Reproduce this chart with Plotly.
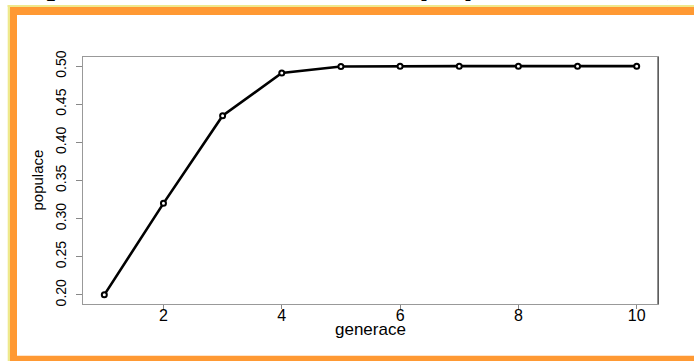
import plotly.graph_objects as go

# ---- data ----
generace = [1, 2, 3, 4, 5, 6, 7, 8, 9, 10]
populace = [0.200, 0.320, 0.435, 0.491, 0.4995, 0.500, 0.500, 0.500, 0.500, 0.500]
x_ticks = [2, 4, 6, 8, 10]
y_ticks = [0.20, 0.25, 0.30, 0.35, 0.40, 0.45, 0.50]
y_tick_labels = ["0.20", "0.25", "0.30", "0.35", "0.40", "0.45", "0.50"]
x_title = "generace"
y_title = "populace"

# ---- geometry (pixels) ----
W, H = 694, 361
L, R, T, B = 83, 658, 57, 304


def px(x):
    return (x - L) / (R - L)


def py(y):
    return (B - y) / (B - T)


ORANGE = "#FF9933"
YELLOW = "#EFE98C"
SANS = "Liberation Sans, Arial, Helvetica, sans-serif"
NARROW = "Liberation Sans Narrow, Arial Narrow, Liberation Sans, sans-serif"

fig = go.Figure(
    go.Scatter(
        x=generace,
        y=populace,
        mode="lines+markers",
        line=dict(color="black", width=2.6),
        marker=dict(symbol="circle", size=5, color="white",
                    line=dict(color="black", width=2)),
        cliponaxis=False,
        showlegend=False,
    )
)

shapes = [
    # yellow outer strips
    dict(type="rect", xref="paper", yref="paper", x0=px(7.7), x1=px(700), y0=py(7), y1=py(5),
         fillcolor=YELLOW, line=dict(width=0), layer="below"),
    dict(type="rect", xref="paper", yref="paper", x0=px(7.7), x1=px(10), y0=py(365), y1=py(5),
         fillcolor=YELLOW, line=dict(width=0), layer="below"),
    # orange frame
    dict(type="rect", xref="paper", yref="paper", x0=px(10), x1=px(700), y0=py(15), y1=py(7),
         fillcolor=ORANGE, line=dict(width=0), layer="below"),
    dict(type="rect", xref="paper", yref="paper", x0=px(10), x1=px(17), y0=py(365), y1=py(7),
         fillcolor=ORANGE, line=dict(width=0), layer="below"),
    dict(type="rect", xref="paper", yref="paper", x0=px(10), x1=px(700), y0=py(365), y1=py(355.7),
         fillcolor=ORANGE, line=dict(width=0), layer="below"),
    # darker right edge of plot box
    dict(type="line", xref="paper", yref="paper", x0=1, x1=1, y0=0, y1=1,
         line=dict(color="#222", width=1)),
]

annotations = [
    dict(text=x_title, xref="paper", yref="paper", x=0.5, y=py(330),
         xanchor="center", yanchor="middle", showarrow=False,
         font=dict(family=SANS, size=17, color="black")),
    dict(text=y_title, xref="paper", yref="paper", x=px(37), y=0.5, textangle=-90,
         xanchor="center", yanchor="middle", showarrow=False,
         font=dict(family=NARROW, size=15, color="black")),
    # cropped slide title fragments at the very top
    dict(text="<i>p</i>", xref="paper", yref="paper", x=px(44), y=py(3),
         xanchor="left", yanchor="bottom", showarrow=False,
         font=dict(family="Liberation Serif, serif", size=36, color="black")),
    dict(text="<b>populace</b>", xref="paper", yref="paper", x=px(417), y=py(3),
         xanchor="left", yanchor="bottom", showarrow=False,
         font=dict(family=SANS, size=36, color="black")),
    dict(text="(t)", xref="paper", yref="paper", x=px(654), y=py(3),
         xanchor="left", yanchor="bottom", showarrow=False,
         font=dict(family="Liberation Serif, serif", size=38, color="black")),
]

fig.update_layout(
    width=W,
    height=H,
    margin=dict(l=L, r=W - R, t=T, b=H - B, pad=0),
    paper_bgcolor="white",
    plot_bgcolor="white",
    shapes=shapes,
    annotations=annotations,
    xaxis=dict(
        range=[0.64, 10.36],
        tickvals=x_ticks,
        ticks="outside",
        ticklen=4,
        tickcolor="#888",
        tickwidth=1,
        showline=True,
        linecolor="#999",
        linewidth=1,
        mirror=True,
        showgrid=False,
        zeroline=False,
        ticklabelstandoff=-7,
        tickfont=dict(family=SANS, size=16, color="black"),
    ),
    yaxis=dict(
        range=[0.188, 0.512],
        tickvals=y_ticks,
        ticktext=y_tick_labels,
        tickangle=-90,
        ticks="outside",
        ticklen=6,
        tickcolor="#888",
        tickwidth=1,
        showline=True,
        linecolor="#999",
        linewidth=1,
        mirror=True,
        showgrid=False,
        zeroline=False,
        ticklabelstandoff=4,
        tickfont=dict(family=NARROW, size=14, color="black"),
    ),
)

fig.write_html(
    "out.html",
    config={"displayModeBar": False},
    post_script="document.body.style.margin='0';document.body.style.padding='0';",
)
